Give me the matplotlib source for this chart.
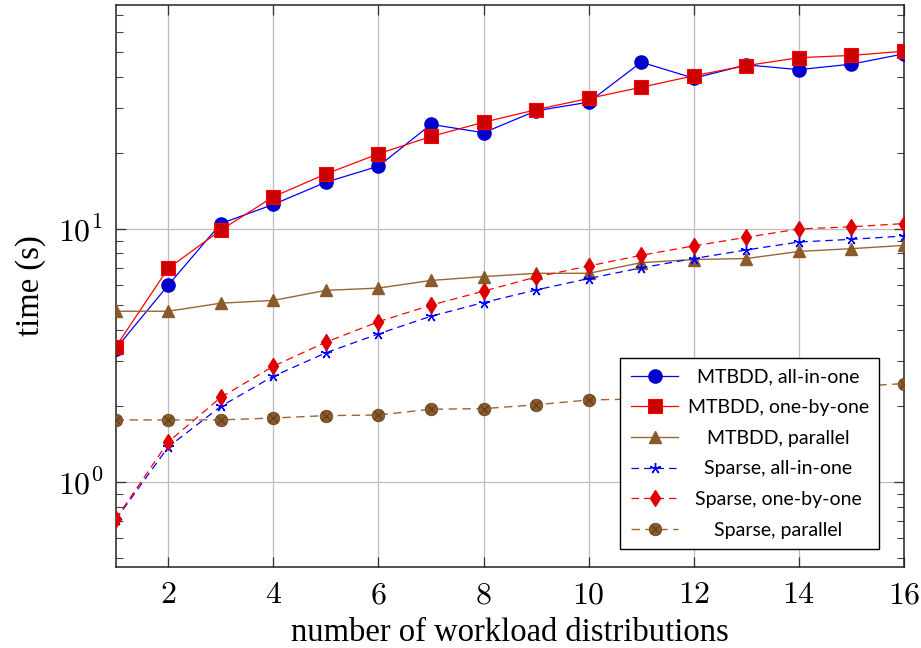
import matplotlib
matplotlib.use("Agg")
import matplotlib.pyplot as plt
from matplotlib.legend_handler import HandlerTuple
import numpy as np

x = list(range(1, 17))
mtbdd_all = [3.36, 6.0, 10.5, 12.5, 15.3, 17.7, 25.9, 24.0, 29.3, 31.7, 45.6, 39.4, 44.5, 42.6, 44.8, 49.2]
mtbdd_one = [3.42, 6.99, 9.9, 13.4, 16.5, 19.8, 23.2, 26.4, 29.6, 32.8, 36.3, 40.3, 44.2, 47.5, 48.5, 50.4]
mtbdd_par = [4.73, 4.73, 5.09, 5.22, 5.72, 5.84, 6.26, 6.48, 6.68, 6.68, 7.36, 7.57, 7.64, 8.15, 8.36, 8.61]
sparse_all = [0.71, 1.376, 1.99, 2.62, 3.24, 3.85, 4.52, 5.12, 5.74, 6.37, 7.02, 7.64, 8.26, 8.88, 9.10, 9.38]
sparse_one = [0.714, 1.44, 2.16, 2.87, 3.57, 4.30, 5.00, 5.68, 6.46, 7.14, 7.87, 8.57, 9.27, 10.0, 10.2, 10.5]
sparse_par = [1.76, 1.76, 1.76, 1.79, 1.83, 1.84, 1.94, 1.95, 2.02, 2.11, 2.13, 2.18, 2.25, 2.32, 2.38, 2.45]

labels = ["MTBDD, all-in-one", "MTBDD, one-by-one", "MTBDD, parallel",
          "Sparse, all-in-one", "Sparse, one-by-one", "Sparse, parallel"]
xticks = [2, 4, 6, 8, 10, 12, 14, 16]
yticks = [1, 10]
ytick_labels = [r"$10^{0}$", r"$10^{1}$"]

plt.rcParams['mathtext.fontset'] = 'cm'

fig = plt.figure(figsize=(9.21, 6.48), dpi=100)
ax = fig.add_axes([0.1256, 0.1255, 0.9816 - 0.1256, 0.9918 - 0.1255])

blue = "#0000ff"
red = "#ff0000"
brown = "#996633"
brown_dark = "#8a5a2a"

h1, = ax.plot(x, mtbdd_all, color=blue, lw=0.9, marker='o', ms=9.5,
              mfc="#0000cc", mec="#0000cc", label=labels[0], zorder=3)
h2, = ax.plot(x, mtbdd_one, color=red, lw=0.9, marker='s', ms=9.5,
              mfc="#cc0000", mec=red, mew=0.8, label=labels[1], zorder=3)
h3, = ax.plot(x, mtbdd_par, color=brown, lw=1.0, marker='^', ms=8,
              mfc=brown_dark, mec=brown_dark, label=labels[2], zorder=3)
h4, = ax.plot(x, sparse_all, color=blue, lw=0.9, ls=(0, (6, 4)), marker=(5, 2, 0), ms=8,
              mec=blue, mew=1.0, label=labels[3], zorder=3)
h5, = ax.plot(x, sparse_one, color=red, lw=0.9, ls=(0, (6, 4)), marker='d', ms=8,
              mfc="#dd0000", mec="#dd0000", label=labels[4], zorder=3)
h6, = ax.plot(x, sparse_par, color=brown, lw=1.0, ls=(0, (6, 4)), marker='o', ms=9,
              mfc=brown_dark, mec="#6b4420", mew=0.6, label=labels[5], zorder=3)
h6x, = ax.plot(x, sparse_par, ls='none', marker='x', ms=5.5, mec="#5a3818", mew=0.7, zorder=4)

ax.set_yscale('log')
ax.set_xlim(1, 16)
ax.set_ylim(0.463, 76.5)

ax.set_xticks(xticks)
ax.set_xticklabels([r"$%d$" % v for v in xticks])
ax.set_yticks(yticks)
ax.set_yticklabels(ytick_labels)
ax.yaxis.set_minor_locator(matplotlib.ticker.LogLocator(base=10, subs=np.arange(2, 10)))
ax.yaxis.set_minor_formatter(matplotlib.ticker.NullFormatter())

ax.tick_params(which='major', direction='in', length=7.5, width=0.9, labelsize=23,
               top=True, right=True, pad=9, colors='#333333', labelcolor='black')
ax.tick_params(which='minor', direction='in', length=5, width=0.8,
               top=True, right=True, colors='#444444')
ax.grid(True, which='major', color='#bdbdbd', lw=0.9)
ax.set_axisbelow(True)
for s in ax.spines.values():
    s.set_linewidth(1.1)
    s.set_color('#222222')

ax.set_xlabel("number of workload distributions", family="Liberation Serif", fontsize=23.5, labelpad=5)
ax.set_ylabel("time (s)", family="Liberation Serif", fontsize=23.5, labelpad=8)

handles = [h1, h2, h3, h4, h5, (h6, h6x)]
leg = ax.legend(handles, labels, loc='lower right', bbox_to_anchor=(0.9687, 0.031),
                borderaxespad=0, fancybox=False, framealpha=1, edgecolor='black',
                prop={'family': 'Lato', 'size': 14}, handlelength=2.4,
                handletextpad=0.5, labelspacing=0.7, borderpad=0.55,
                handler_map={tuple: HandlerTuple(ndivide=1)})
leg.get_frame().set_linewidth(1.0)

fig.canvas.draw()
renderer = fig.canvas.get_renderer()
widths = [t.get_window_extent(renderer).width for t in leg.get_texts()]
W = max(widths)
for t, w in zip(leg.get_texts(), widths):
    t.set_position(((W - w) / 2.0, 0))

fig.savefig("out.png", dpi=100)
